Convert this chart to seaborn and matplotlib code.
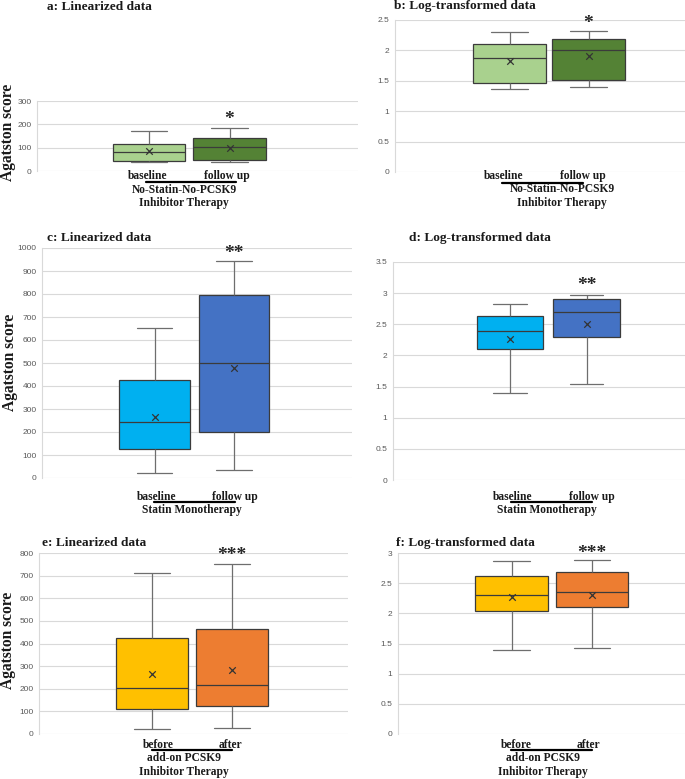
import numpy as np
import pandas as pd
import matplotlib
matplotlib.use("Agg")
import matplotlib.pyplot as plt
import seaborn as sns
from matplotlib.lines import Line2D

W, H = 685, 779

# five-number summaries: low whisker, Q1, median, Q3, high whisker
groups_nostatin = ["baseline", "follow up"]
lin_nostatin = [[37, 41, 80, 116, 171], [37, 46, 101, 140, 183]]
lin_nostatin_mean = [87, 97]
log_nostatin = [[1.36, 1.46, 1.87, 2.11, 2.30], [1.40, 1.52, 2.00, 2.19, 2.32]]
log_nostatin_mean = [1.83, 1.90]

groups_statin = ["baseline", "follow up"]
lin_statin = [[23, 128, 243, 428, 652], [33, 199, 499, 794, 942]]
lin_statin_mean = [267, 478]
log_statin = [[1.39, 2.11, 2.39, 2.63, 2.82], [1.54, 2.30, 2.69, 2.90, 2.97]]
log_statin_mean = [2.26, 2.50]

groups_pcsk9 = ["before", "after"]
lin_pcsk9 = [[22, 109, 204, 425, 713], [25, 125, 215, 463, 750]]
lin_pcsk9_mean = [266, 285]
log_pcsk9 = [[1.39, 2.04, 2.31, 2.62, 2.86], [1.43, 2.10, 2.35, 2.68, 2.88]]
log_pcsk9_mean = [2.27, 2.30]

green = ["#A9D18E", "#548235"]
blue = ["#00B0F0", "#4472C4"]
orange = ["#FFC000", "#ED7D31"]

SERIF = "Liberation Serif"


def fx(x):
    return x / W


def fy(y):
    return 1 - y / H


def ftext(fig, x, y, s, size=8.3, ha="center", **kw):
    fig.text(fx(x), fy(y), s, ha=ha, va="center", fontsize=size,
             fontfamily=SERIF, fontweight="bold", color="#1a1a1a", **kw)


def panel(fig, rect, centers, width, groups, stats, means, colors, ymax, ystep,
          title, title_xy, stars, star_y):
    L, T, R, B = rect
    ax = fig.add_axes([fx(L), fy(B), fx(R) - fx(L), (B - T) / H])
    rows = []
    for g, s in zip(groups, stats):
        for v in s:
            rows.append({"group": g, "value": v})
    df = pd.DataFrame(rows)
    sns.boxplot(data=df, x="group", y="value", hue="group", palette=colors,
                whis=(0, 100), width=width, linecolor="#3b3b3b", linewidth=0.9,
                showfliers=False, legend=False, saturation=1, ax=ax,
                whiskerprops={"color": "#6e6e6e"}, capprops={"color": "#6e6e6e"})
    mdf = pd.DataFrame({"group": groups, "mean": means})
    sns.scatterplot(data=mdf, x="group", y="mean", marker="x", color="#333333",
                    s=22, linewidth=0.9, ax=ax, zorder=5)
    c0, c1 = centers
    ax.set_xlim((L - c0) / (c1 - c0), (R - c0) / (c1 - c0))
    ax.set_ylim(0, ymax)
    ticks = np.arange(0, ymax + ystep / 2, ystep)
    ax.set_yticks(ticks)
    ax.set_yticklabels([f"{v:g}" for v in ticks])
    ax.yaxis.grid(True, color="#d9d9d9", linewidth=0.8)
    ax.set_axisbelow(True)
    ax.tick_params(axis="y", length=0, labelsize=6, labelcolor="#595959", pad=4)
    ax.tick_params(axis="x", length=0, labelbottom=False)
    for lab in ax.get_yticklabels():
        lab.set_fontfamily("Liberation Sans")
    ax.set_xlabel("")
    ax.set_ylabel("")
    for name, sp in ax.spines.items():
        sp.set_visible(name == "left")
    ax.spines["left"].set_color("#d9d9d9")
    ax.spines["left"].set_linewidth(0.8)
    ax.text(1, star_y, stars, ha="center", va="center", fontsize=14,
            fontfamily=SERIF, fontweight="bold", color="#262626", clip_on=False)
    ftext(fig, title_xy[0], title_xy[1], title, size=9.6, ha="left")
    return ax


sns.set_theme(style="white")
fig = plt.figure(figsize=(W / 100, H / 100), dpi=100)
fig.patch.set_facecolor("white")

# a / b
panel(fig, (37, 101, 358, 171), (149, 229.5), 0.9, groups_nostatin, lin_nostatin,
      lin_nostatin_mean, green, 300, 100, "a: Linearized data", (47, 7), "*", 222)
panel(fig, (395, 20, 685, 172), (509.5, 588.5), 0.92, groups_nostatin, log_nostatin,
      log_nostatin_mean, green, 2.5, 0.5, "b: Log-transformed data", (394, 6), "*", 2.45)
# c / d
panel(fig, (42, 248, 352, 478), (154.5, 234), 0.89, groups_statin, lin_statin,
      lin_statin_mean, blue, 1000, 100, "c: Linearized data", (47, 238), "**", 975)
panel(fig, (393, 262, 685, 480), (510, 586.5), 0.87, groups_statin, log_statin,
      log_statin_mean, blue, 3.5, 0.5, "d: Log-transformed data", (409, 238), "**", 3.12)
# e / f
panel(fig, (39, 553, 348, 734), (152, 232), 0.89, groups_pcsk9, lin_pcsk9,
      lin_pcsk9_mean, orange, 800, 100, "e: Linearized data", (42, 543), "***", 790)
panel(fig, (398, 553, 685, 734), (511.5, 592), 0.9, groups_pcsk9, log_pcsk9,
      log_pcsk9_mean, orange, 3, 0.5, "f: Log-transformed data", (396, 543), "***", 2.99)

# category labels, underline bars and therapy names
cat_rows = [
    ((147.5, 226.7), 176, groups_nostatin, (146, 236, 182), 184, [(190, "No-Statin-No-PCSK9"), (203, "Inhibitor Therapy")]),
    ((504, 583), 176, groups_nostatin, (502, 583, 182.5), 562, [(189, "No-Statin-No-PCSK9"), (203, "Inhibitor Therapy")]),
    ((156.5, 235), 496.7, groups_statin, (154, 235, 501.7), 191.5, [(509.5, "Statin Monotherapy")]),
    ((512.7, 591.5), 496.7, groups_statin, (510.7, 591.7, 502.3), 547, [(510, "Statin Monotherapy")]),
    ((158, 230), 745, groups_pcsk9, (151.7, 232.3, 750), 184, [(758.3, "add-on PCSK9"), (771.7, "Inhibitor Therapy")]),
    ((516.7, 588), 745, groups_pcsk9, (510.7, 591.7, 750), 542.5, [(758.3, "add-on PCSK9"), (771.7, "Inhibitor Therapy")]),
]
for xs, y, labs, ul, subx, subs in cat_rows:
    for x, lab in zip(xs, labs):
        ftext(fig, x, y, lab)
    fig.add_artist(Line2D([fx(ul[0]), fx(ul[1])], [fy(ul[2]), fy(ul[2])],
                          color="black", linewidth=1.6))
    for yy, s in subs:
        ftext(fig, subx, yy, s)

# y-axis titles
for x, y in [(8, 132), (10, 362), (8, 640)]:
    ftext(fig, x, y, "Agatston score", size=11.2, rotation=90)

fig.savefig("out.png", dpi=100, facecolor="white")
